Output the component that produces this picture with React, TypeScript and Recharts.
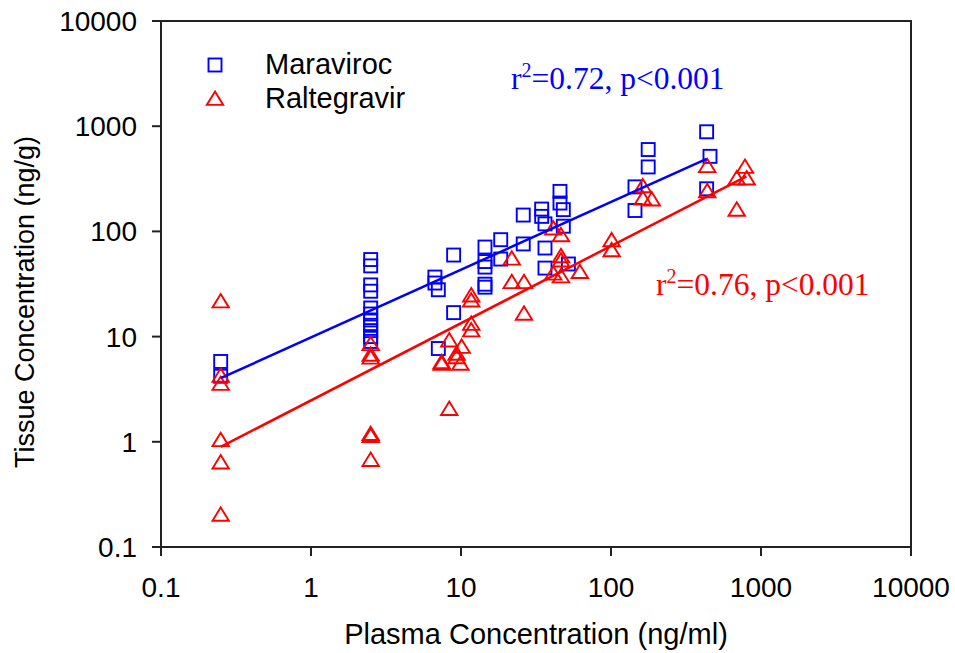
import React from 'react';
import { ScatterChart, Scatter, XAxis, YAxis, ReferenceArea } from 'recharts';

const xTicks = [0.1, 1, 10, 100, 1000, 10000];
const yTicks = [0.1, 1, 10, 100, 1000, 10000];

const maraviroc: [number, number][] = [
  [0.25, 5.8], [0.25, 4.2],
  [2.5, 54], [2.5, 47], [2.5, 31], [2.5, 27], [2.5, 18.7], [2.5, 16.4], [2.5, 14.4],
  [2.5, 12.8], [2.5, 11.4], [2.5, 10.0], [2.5, 9.0],
  [6.7, 36.8], [6.7, 32.3], [7.06, 27.9], [7.06, 7.7],
  [8.93, 59.6], [8.93, 16.9],
  [14.45, 71], [14.45, 51.7], [14.45, 45.8], [14.45, 31.5], [14.45, 29.5],
  [18.4, 83.4], [18.4, 54.6],
  [26, 143], [26, 76],
  [34.5, 163], [34.5, 139],
  [36.3, 118], [36.3, 69.5], [36.3, 44.8],
  [45.7, 240], [45.7, 186], [48.1, 161], [48.1, 112], [52, 49],
  [144.5, 265], [144.5, 158],
  [177, 600], [177, 410],
  [434, 885], [434, 254], [457, 517],
];

const raltegravir: [number, number][] = [
  [0.25, 21.9], [0.25, 4.3], [0.25, 3.6], [0.25, 1.05], [0.25, 0.645], [0.25, 0.205],
  [2.5, 8.6], [2.5, 6.8], [2.5, 6.4], [2.5, 1.2], [2.5, 1.15], [2.5, 0.68],
  [7.43, 5.78], [7.43, 5.58],
  [8.35, 9.3], [8.35, 2.08],
  [9.35, 6.95], [9.35, 6.45], [10.1, 8.1], [9.9, 5.6],
  [11.7, 24.9], [11.7, 22.3], [11.7, 13.4], [11.7, 11.6],
  [21.8, 55.8], [21.8, 33.4],
  [26.3, 33.4], [26.3, 16.7],
  [41.2, 108], [41.2, 40.2],
  [46.4, 93], [46.4, 58.8], [46.4, 53.6], [46.4, 37.9],
  [62, 41.6],
  [101, 83.4], [101, 67],
  [163, 272], [163, 208], [187, 204],
  [438, 423], [438, 244],
  [689, 323], [689, 163], [782, 416], [803, 323],
];

const maravirocFit: [number, number][] = [[0.25, 4.02], [434, 490]];
const raltegravirFit: [number, number][] = [[0.25, 0.895], [800, 334]];

const BLUE = '#0000ff';
const RED = '#ff0000';
const SANS = '"Liberation Sans", Arial, sans-serif';
const SERIF = '"Liberation Serif", "Times New Roman", serif';

const toPts = (arr: [number, number][]) => arr.map(([x, y]) => ({ x, y }));

const Square = (props: any) => {
  const { cx, cy } = props;
  return <rect x={cx - 6.5} y={cy - 6.5} width={13} height={13} fill="none" stroke={BLUE} strokeWidth={1.9} />;
};

const Triangle = (props: any) => {
  const { cx, cy } = props;
  const d = `M${cx},${cy - 6.8}L${cx + 8.2},${cy + 6.6}L${cx - 8.2},${cy + 6.6}Z`;
  return <path d={d} fill="none" stroke={RED} strokeWidth={1.9} />;
};

const Nothing = () => <g />;

export default function App() {
  return (
    <div style={{ position: 'absolute', left: 0, top: 0, width: 955, height: 653, background: '#fff' }}>
      <ScatterChart width={955} height={653} margin={{ top: 21, right: 44, bottom: 0, left: 0 }}>
        <XAxis
          type="number"
          dataKey="x"
          scale="log"
          domain={[0.1, 10000]}
          ticks={xTicks}
          allowDataOverflow
          interval={0}
          height={106}
          tickSize={9}
          tickMargin={21}
          stroke="#222"
          strokeWidth={2}
          tick={{ fontSize: 28, fill: '#000', fontFamily: SANS }}
          tickFormatter={(v: number) => String(v)}
        />
        <YAxis
          type="number"
          dataKey="y"
          scale="log"
          domain={[0.1, 10000]}
          ticks={yTicks}
          allowDataOverflow
          interval={0}
          width={161}
          tickSize={9}
          tickMargin={15}
          stroke="#222"
          strokeWidth={2}
          tick={{ fontSize: 28, fill: '#000', fontFamily: SANS }}
          tickFormatter={(v: number) => String(v)}
        />
        <ReferenceArea x1={0.1} x2={10000} y1={0.1} y2={10000} fill="none" stroke="#222" strokeWidth={2} />
        <Scatter name="Maraviroc" data={toPts(maraviroc)} shape={<Square />} isAnimationActive={false} />
        <Scatter name="Raltegravir" data={toPts(raltegravir)} shape={<Triangle />} isAnimationActive={false} />
        <Scatter data={toPts(maravirocFit)} line={{ stroke: BLUE, strokeWidth: 2.5 }} shape={<Nothing />} isAnimationActive={false} />
        <Scatter data={toPts(raltegravirFit)} line={{ stroke: RED, strokeWidth: 2.5 }} shape={<Nothing />} isAnimationActive={false} />

        <g>
          <rect x={208.5} y={58.5} width={13} height={13} fill="none" stroke={BLUE} strokeWidth={1.9} />
          <path d="M215,91.5L223.2,104.9L206.8,104.9Z" fill="none" stroke={RED} strokeWidth={1.9} />
          <text x={265} y={74} fontSize={29} fontFamily={SANS} fill="#000">Maraviroc</text>
          <text x={265} y={108} fontSize={29} fontFamily={SANS} fill="#000">Raltegravir</text>
          <text x={511} y={89} fontSize={31.5} fontFamily={SERIF} fill={BLUE}>
            r<tspan fontSize={20} dy={-12}>2</tspan><tspan dy={12}>=0.72, p&lt;0.001</tspan>
          </text>
          <text x={656} y={295} fontSize={31.5} fontFamily={SERIF} fill={RED}>
            r<tspan fontSize={20} dy={-12}>2</tspan><tspan dy={12}>=0.76, p&lt;0.001</tspan>
          </text>
          <text x={536} y={644} fontSize={29} fontFamily={SANS} fill="#000" textAnchor="middle">Plasma Concentration (ng/ml)</text>
          <text x={34} y={302} fontSize={27} fontFamily={SANS} fill="#000" textAnchor="middle" transform="rotate(-90 34 302)">Tissue Concentration (ng/g)</text>
        </g>
      </ScatterChart>
    </div>
  );
}
